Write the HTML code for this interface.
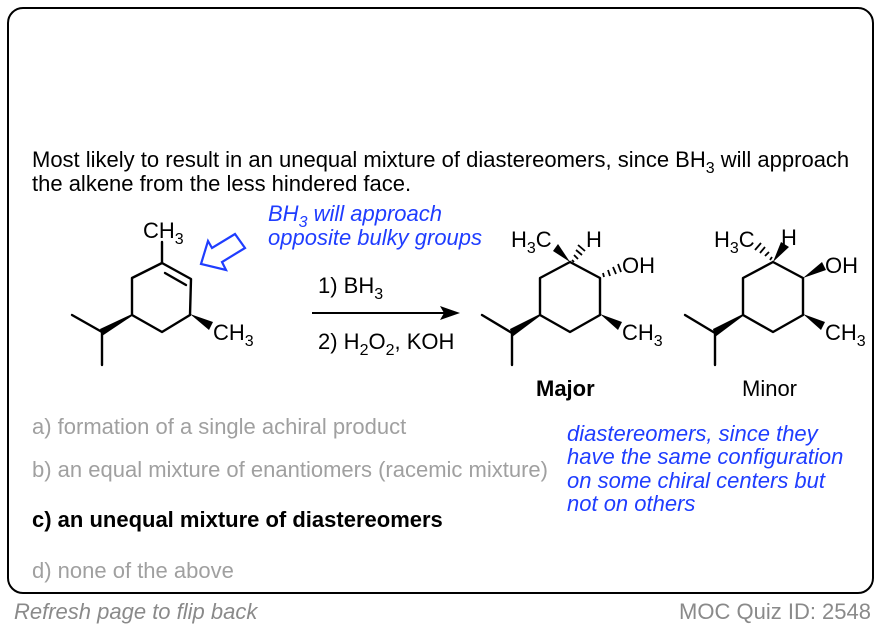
<!DOCTYPE html>
<html><head><meta charset="utf-8"><style>
body{margin:0;width:880px;height:628px;background:#fff;overflow:hidden;font-family:"Liberation Sans",sans-serif}
</style></head><body>
<svg width="880" height="628" viewBox="0 0 880 628" xmlns="http://www.w3.org/2000/svg" font-family="Liberation Sans, sans-serif">
<rect x="8" y="8" width="865" height="585" rx="15" fill="none" stroke="#000" stroke-width="2"/>
<g font-size="22" fill="#000">
<text x="32" y="167">Most likely to result in an unequal mixture of diastereomers, since BH<tspan font-size="16" dy="6">3</tspan><tspan dy="-6"> will approach</tspan></text>
<text x="32" y="191">the alkene from the less hindered face.</text>
</g>
<g font-size="22" font-style="italic" fill="#1f3dff">
<text x="268" y="221">BH<tspan font-size="16" dy="6">3</tspan><tspan dy="-6"> will approach</tspan></text>
<text x="268" y="245">opposite bulky groups</text>
</g>
<polygon points="201,264 208,241 212,248 235,234 245,248 222,262 226,270" fill="none" stroke="#1f3dff" stroke-width="2.2" stroke-linejoin="miter"/>
<g stroke="#000" stroke-width="2.4" fill="none" stroke-linecap="round" stroke-linejoin="round">
<polyline points="162,263 191,279 190,315 162,332 132,315 132,278 162,263"/>
<line x1="165" y1="273" x2="186" y2="285"/>
<line x1="162" y1="263" x2="162" y2="242"/>
<line x1="102" y1="332" x2="72" y2="315"/>
<line x1="102" y1="332" x2="102" y2="365"/>
<polyline points="570,262 600,278 600,315 570,332 540,315 540,278 570,262"/>
<line x1="512" y1="333" x2="482" y2="315"/>
<line x1="512" y1="333" x2="512" y2="365"/>
<polyline points="773,262 803,278 803,315 773,332 743,315 743,278 773,262"/>
<line x1="715" y1="333" x2="685" y2="315"/>
<line x1="715" y1="333" x2="715" y2="365"/>
</g>
<g fill="#000">
<polygon points="132,314 132,316 102,336 100,329"/>
<polygon points="190,314 213,322 209,330"/>
<polygon points="540,314 540,316 512,337 510,329"/>
<polygon points="600,314 622,322 618,330"/>
<polygon points="570,262 553,251 558,244"/>
<polygon points="743,314 743,316 715,337 713,329"/>
<polygon points="803,314 825,322 821,330"/>
<polygon points="803,278 822,262 826,270"/>
<polygon points="773,262 781,242 789,247"/>
</g>
<g stroke="#000" stroke-width="1.8">
<line x1="572" y1="260" x2="574" y2="262"/><line x1="574" y1="255" x2="578" y2="259"/><line x1="576" y1="250" x2="582" y2="255"/><line x1="578" y1="245" x2="585" y2="251"/>
<line x1="603" y1="273" x2="604" y2="277"/><line x1="608" y1="270" x2="610" y2="276"/><line x1="613" y1="267" x2="616" y2="274"/><line x1="618" y1="264" x2="621" y2="272"/>
<line x1="770" y1="260" x2="772" y2="257"/><line x1="765" y1="256" x2="769" y2="252"/><line x1="760" y1="253" x2="765" y2="247"/><line x1="755" y1="250" x2="761" y2="243"/>
</g>
<g font-size="22" fill="#000">
<text x="143" y="238">CH<tspan font-size="16" dy="6">3</tspan></text>
<text x="213" y="340">CH<tspan font-size="16" dy="6">3</tspan></text>
<text x="511" y="247">H<tspan font-size="16" dy="6">3</tspan><tspan dy="-6">C</tspan></text>
<text x="586" y="247">H</text>
<text x="622" y="273">OH</text>
<text x="622" y="340">CH<tspan font-size="16" dy="6">3</tspan></text>
<text x="714" y="247">H<tspan font-size="16" dy="6">3</tspan><tspan dy="-6">C</tspan></text>
<text x="781" y="245">H</text>
<text x="825" y="273">OH</text>
<text x="825" y="340">CH<tspan font-size="16" dy="6">3</tspan></text>
<text x="318" y="293">1) BH<tspan font-size="16" dy="6">3</tspan></text>
<text x="318" y="349">2) H<tspan font-size="16" dy="6">2</tspan><tspan dy="-6">O</tspan><tspan font-size="16" dy="6">2</tspan><tspan dy="-6">, KOH</tspan></text>
<text x="536" y="396" font-weight="bold">Major</text>
<text x="742" y="396">Minor</text>
</g>
<line x1="312" y1="313" x2="446" y2="313" stroke="#000" stroke-width="2"/>
<polygon points="460,313 440,306 444,313 440,320" fill="#000"/>
<g font-size="22">
<text x="32" y="434" fill="#a0a0a0">a) formation of a single achiral product</text>
<text x="32" y="477" fill="#a0a0a0">b) an equal mixture of enantiomers (racemic mixture)</text>
<text x="32" y="527" fill="#000" font-weight="bold">c) an unequal mixture of diastereomers</text>
<text x="32" y="578" fill="#a0a0a0">d) none of the above</text>
</g>
<g font-size="22" font-style="italic" fill="#1f3dff">
<text x="567" y="441">diastereomers, since they</text>
<text x="567" y="464">have the same configuration</text>
<text x="567" y="488">on some chiral centers but</text>
<text x="567" y="511">not on others</text>
</g>
<text x="14" y="619" font-size="22" font-style="italic" fill="#8a8a8a">Refresh page to flip back</text>
<text x="871" y="619" font-size="22" fill="#8a8a8a" text-anchor="end">MOC Quiz ID: 2548</text>
</svg>
</body></html>
